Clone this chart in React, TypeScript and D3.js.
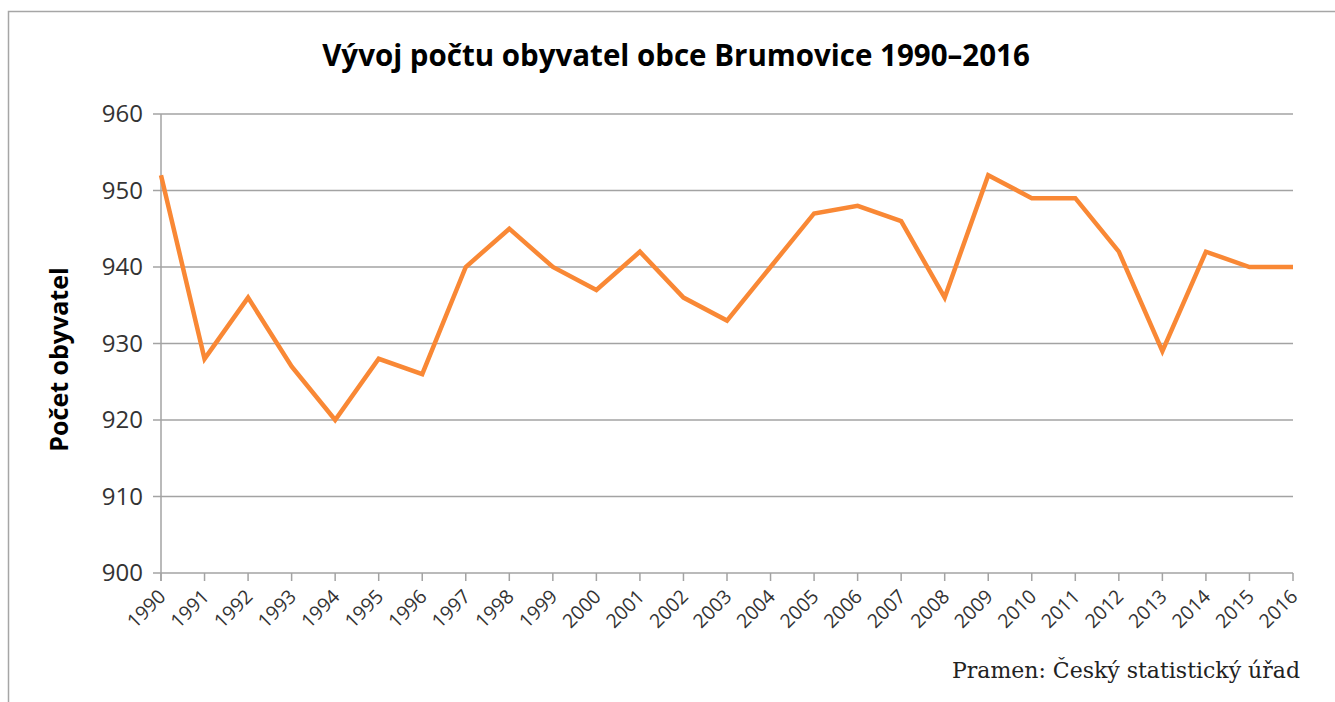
import * as d3 from 'd3'

const years = d3.range(1990, 2017).map(String)
const population = [
  952, 928, 936, 927, 920, 928, 926, 940, 945, 940, 937, 942, 936, 933,
  940, 947, 948, 946, 936, 952, 949, 949, 942, 929, 942, 940, 940,
]
const yTicks = [900, 910, 920, 930, 940, 950, 960]

const TITLE = 'Vývoj počtu obyvatel obce Brumovice 1990–2016'
const Y_TITLE = 'Počet obyvatel'
const SOURCE = 'Pramen: Český statistický úřad'

const W = 1335
const H = 702
const PLOT = { left: 161, right: 1293, top: 114, bottom: 573 }

const LINE_COLOR = '#F98835'
const GRID = '#a3a3a3'
const TEXT = '#333'
const SANS = "'Open Sans', 'DejaVu Sans', sans-serif"

export default function App() {
  const x = d3.scalePoint<string>().domain(years).range([PLOT.left, PLOT.right])
  const y = d3.scaleLinear().domain([900, 960]).range([PLOT.bottom, PLOT.top])

  const line = d3
    .line<number>()
    .x((_, i) => x(years[i]) ?? 0)
    .y((d) => y(d))

  return (
    <svg
      width={W}
      height={H}
      style={{ position: 'absolute', left: 0, top: 0, background: '#fff' }}
    >
      {/* outer frame, only left and top edges visible */}
      <rect x={8.5} y={11.5} width={W} height={H} fill="none" stroke="#a6a6a6" strokeWidth={1.5} />

      <text
        x={676}
        y={66}
        textAnchor="middle"
        fontFamily={SANS}
        fontWeight="bold"
        fontSize={29.5}
        fill="#000"
      >
        {TITLE}
      </text>

      {/* grid + y ticks */}
      {yTicks.map((t) => (
        <g key={t}>
          <line x1={PLOT.left - 8} x2={PLOT.right} y1={y(t)} y2={y(t)} stroke={GRID} strokeWidth={1.5} />
          <text
            x={143}
            y={y(t)}
            dy="0.35em"
            textAnchor="end"
            fontFamily={SANS}
            fontSize={24}
            fill={TEXT}
          >
            {t}
          </text>
        </g>
      ))}

      {/* y axis line */}
      <line x1={PLOT.left} x2={PLOT.left} y1={PLOT.top} y2={PLOT.bottom + 8} stroke={GRID} strokeWidth={1.5} />

      {/* x ticks + labels */}
      {years.map((yr) => {
        const px = x(yr) ?? 0
        return (
          <g key={yr}>
            <line x1={px} x2={px} y1={PLOT.bottom} y2={PLOT.bottom + 8} stroke={GRID} strokeWidth={1.5} />
            <text
              transform={`translate(${px + 1},${PLOT.bottom + 20}) rotate(-45)`}
              dy="0.35em"
              textAnchor="end"
              fontFamily={SANS}
              fontSize={19.5}
              fill={TEXT}
            >
              {yr}
            </text>
          </g>
        )
      })}

      <text
        transform={`translate(68,${(PLOT.top + PLOT.bottom) / 2 + 16}) rotate(-90)`}
        textAnchor="middle"
        fontFamily={SANS}
        fontWeight="bold"
        fontSize={25}
        fill="#000"
      >
        {Y_TITLE}
      </text>

      <path d={line(population) ?? ''} fill="none" stroke={LINE_COLOR} strokeWidth={4.5} strokeLinejoin="miter" />

      <text
        x={1300}
        y={678}
        textAnchor="end"
        fontFamily="'DejaVu Serif', serif"
        fontSize={22}
        fill="#222"
      >
        {SOURCE}
      </text>
    </svg>
  )
}
